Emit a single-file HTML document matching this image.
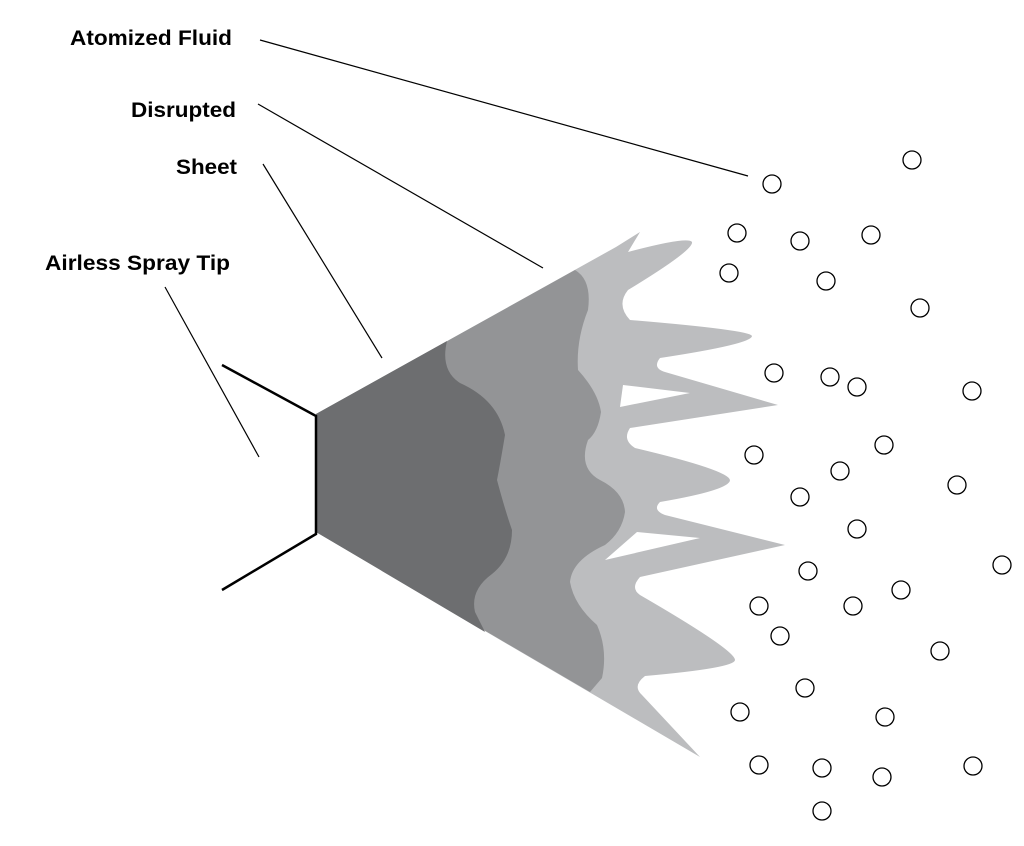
<!DOCTYPE html>
<html><head><meta charset="utf-8"><style>html,body{margin:0;padding:0;background:#fff}svg{display:block}</style></head>
<body>
<svg width="1024" height="846" viewBox="0 0 1024 846" xmlns="http://www.w3.org/2000/svg">
<g font-family="Liberation Sans, Arial, sans-serif" font-weight="bold" font-size="21" fill="#000">
<text x="70" y="45" textLength="162" lengthAdjust="spacingAndGlyphs">Atomized Fluid</text>
<text x="131" y="117" textLength="105" lengthAdjust="spacingAndGlyphs">Disrupted</text>
<text x="176" y="174" textLength="61" lengthAdjust="spacingAndGlyphs">Sheet</text>
<text x="45" y="270" textLength="185" lengthAdjust="spacingAndGlyphs">Airless Spray Tip</text>
</g>
<g stroke="#000" stroke-width="1.2" fill="none">
<line x1="260" y1="40" x2="748" y2="176"/>
<line x1="258" y1="104" x2="543" y2="268"/>
<line x1="263" y1="164" x2="382" y2="358"/>
<line x1="165" y1="287" x2="259" y2="457"/>
</g>
<path fill="#bcbdbf" d="M316,414 L616,247 L640,232 L628,252 Q688,236 692,242 Q694,250 628,290 Q616,305 630,320 Q750,330 752,336 Q752,344 660,358 Q652,368 665,372 L778,405 L630,428 Q622,440 635,448 Q728,470 730,480 Q730,490 660,502 Q652,510 665,515 L785,545 L640,577 Q630,588 640,595 Q735,650 735,660 Q735,668 645,676 Q632,686 642,695 L700,757 L316,532 Z"/>
<path fill="#fff" d="M623,385 L690,393 L620,407 Z"/>
<path fill="#fff" d="M637,532 L700,538 L605,560 Z"/>
<path fill="#939496" d="M316,414 L575,270 Q592,280 588,310 Q576,340 578,370 Q598,392 601,412 Q598,432 588,440 Q578,468 600,480 Q624,492 625,512 Q622,532 605,545 Q572,560 570,582 Q574,605 597,625 Q608,650 602,678 L590,692 L316,532 Z"/>
<path fill="#6d6e70" d="M316,414 L447,341 Q440,370 460,383 Q498,400 505,435 Q500,465 497,480 Q505,510 512,530 Q512,558 492,574 Q470,590 475,612 L485,632 L316,532 Z"/>
<polyline points="222,365 316,416 316,534 222,590" fill="none" stroke="#000" stroke-width="2.5" stroke-linejoin="miter"/>
<g fill="none" stroke="#000" stroke-width="1.3">
<circle cx="912" cy="160" r="9"/><circle cx="772" cy="184" r="9"/><circle cx="737" cy="233" r="9"/><circle cx="800" cy="241" r="9"/><circle cx="871" cy="235" r="9"/><circle cx="729" cy="273" r="9"/><circle cx="826" cy="281" r="9"/><circle cx="920" cy="308" r="9"/><circle cx="774" cy="373" r="9"/><circle cx="830" cy="377" r="9"/><circle cx="857" cy="387" r="9"/><circle cx="972" cy="391" r="9"/><circle cx="884" cy="445" r="9"/><circle cx="754" cy="455" r="9"/><circle cx="840" cy="471" r="9"/><circle cx="957" cy="485" r="9"/><circle cx="800" cy="497" r="9"/><circle cx="857" cy="529" r="9"/><circle cx="1002" cy="565" r="9"/><circle cx="808" cy="571" r="9"/><circle cx="901" cy="590" r="9"/><circle cx="759" cy="606" r="9"/><circle cx="853" cy="606" r="9"/><circle cx="780" cy="636" r="9"/><circle cx="940" cy="651" r="9"/><circle cx="805" cy="688" r="9"/><circle cx="740" cy="712" r="9"/><circle cx="885" cy="717" r="9"/><circle cx="759" cy="765" r="9"/><circle cx="822" cy="768" r="9"/><circle cx="882" cy="777" r="9"/><circle cx="973" cy="766" r="9"/><circle cx="822" cy="811" r="9"/>
</g>
</svg>
</body></html>
